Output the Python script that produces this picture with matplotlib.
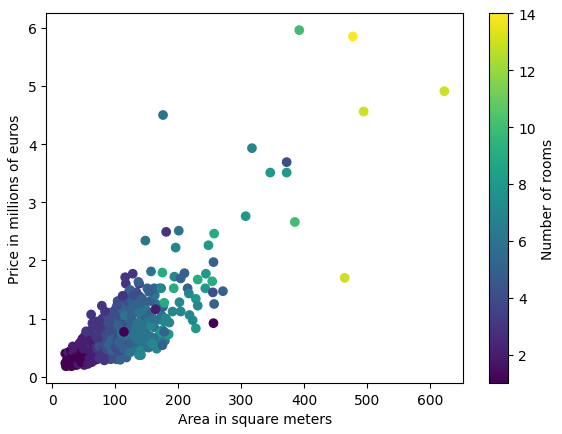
import matplotlib
matplotlib.use("Agg")
import matplotlib.pyplot as plt

# Periphery / outliers (area m², price M€, rooms)
outer_area = [392, 477, 622, 494, 176, 317, 372, 346, 372, 307, 385, 464,
              181, 201, 148, 196, 257, 248, 256, 128, 116, 157, 175, 210, 244,
              231, 254, 193, 243, 271, 255, 257, 228, 178, 256, 228, 183, 62,
              79, 103, 114, 21, 194, 204, 215, 217, 231, 202, 191, 204, 218,
              223, 185, 162, 138, 164, 117, 138, 122, 154, 170, 143, 130, 181,
              186, 178, 175, 159, 141, 108, 137, 124, 112, 129, 151, 162, 173]
outer_price = [5.96, 5.85, 4.91, 4.56, 4.50, 3.93, 3.69, 3.51, 3.51, 2.76, 2.66, 1.70,
               2.49, 2.51, 2.34, 2.22, 2.46, 2.26, 1.97, 1.77, 1.71, 1.81, 1.79, 1.78, 1.77,
               1.67, 1.64, 1.52, 1.52, 1.47, 1.45, 1.25, 1.34, 1.27, 0.92, 0.83, 0.72, 1.07,
               1.22, 1.22, 0.77, 0.23, 1.72, 1.69, 1.52, 1.43, 1.22, 1.28, 1.12, 1.12, 1.06,
               0.97, 0.73, 0.66, 0.37, 1.16, 1.60, 1.60, 1.46, 1.46, 1.52, 1.34, 1.23, 1.00,
               0.93, 0.77, 0.54, 0.57, 0.37, 0.29, 1.63, 1.49, 1.39, 1.40, 1.52, 1.52, 1.52]
outer_rooms = [10, 14, 13, 13, 6, 7, 4, 8, 8, 8, 10, 13,
               3, 6, 6, 7, 9, 8, 5, 3, 3, 6, 9, 5, 8,
               9, 9, 9, 8, 5, 4, 5, 8, 9, 1, 8, 8, 3,
               3, 4, 1, 1, 7, 5, 5, 7, 7, 7, 7, 7, 7,
               7, 8, 6, 7, 2, 3, 3, 5, 5, 7, 5, 5, 7,
               7, 5, 5, 7, 7, 5, 5, 5, 3, 4, 5, 5, 7]

# Dense cluster
core_area = [22, 25, 28, 30, 33, 35, 38, 24, 27, 32, 36, 40, 21, 26, 30, 34, 38, 40, 29, 23, 37, 33, 39, 31, 26,
             42, 44, 46, 48, 50, 52, 54, 56, 58, 45, 47, 50, 53, 55, 57, 59, 43, 49, 51, 44, 56, 58, 60, 42, 46, 52, 55, 48, 54, 59, 41, 45, 47, 57, 53, 50,
             61, 62, 63, 64, 65, 66, 67, 68, 69, 70, 71, 72, 73, 74, 75, 76, 77, 78, 79, 80, 62, 64, 66, 68, 70, 72, 74, 76, 78, 80, 63, 65, 67, 69, 71, 73, 75, 77, 79, 60, 75, 70,
             81, 82, 83, 84, 85, 86, 87, 88, 89, 90, 91, 92, 93, 94, 95, 96, 97, 98, 99, 100, 82, 84, 86, 88, 90, 92, 94, 96, 98, 100, 85, 87, 89, 91, 93, 95, 97, 99, 83, 90, 95,
             101, 102, 103, 104, 105, 106, 107, 108, 109, 110, 111, 112, 113, 114, 115, 116, 117, 118, 119, 120, 121, 122, 123, 124, 125, 104, 108, 112, 116, 118, 120, 122, 106, 110, 114, 102, 124, 105, 115,
             126, 128, 130, 132, 134, 136, 138, 140, 142, 144, 146, 148, 150, 127, 131, 135, 139, 143, 147, 129, 133, 137, 141, 145, 149, 134, 126, 138,
             152, 155, 158, 160, 162, 165, 168, 170, 172, 175, 178, 156, 163, 169, 174, 153, 166, 179, 157, 171, 176, 160]
core_price = [0.18, 0.22, 0.25, 0.20, 0.28, 0.24, 0.30, 0.30, 0.35, 0.38, 0.33, 0.26, 0.40, 0.42, 0.45, 0.40, 0.42, 0.36, 0.30, 0.26, 0.50, 0.52, 0.20, 0.18, 0.19,
              0.22, 0.30, 0.35, 0.28, 0.40, 0.33, 0.45, 0.38, 0.50, 0.48, 0.55, 0.60, 0.25, 0.30, 0.62, 0.42, 0.40, 0.52, 0.20, 0.58, 0.55, 0.35, 0.28, 0.45, 0.25, 0.70, 0.68, 0.65, 0.78, 0.72, 0.32, 0.38, 0.42, 0.22, 0.50, 0.48,
              0.30, 0.45, 0.55, 0.38, 0.65, 0.50, 0.28, 0.75, 0.42, 0.60, 0.35, 0.85, 0.52, 0.70, 0.45, 0.90, 0.62, 0.40, 0.78, 0.55, 0.80, 0.92, 0.72, 0.35, 0.95, 0.30, 0.58, 0.38, 0.68, 1.00, 0.25, 0.40, 0.60, 0.88, 0.48, 0.73, 0.32, 0.82, 0.50, 0.62, 0.52, 0.68,
              0.40, 0.65, 0.80, 0.50, 0.95, 0.35, 0.72, 1.05, 0.58, 0.85, 0.45, 1.10, 0.68, 0.38, 0.90, 0.55, 1.00, 0.75, 0.48, 0.62, 0.88, 1.12, 0.60, 0.42, 0.70, 0.52, 0.95, 0.82, 0.32, 1.15, 0.52, 0.47, 0.92, 0.78, 0.30, 0.64, 0.40, 0.88, 0.28, 0.55, 0.45,
              0.50, 0.80, 1.05, 0.65, 0.40, 0.95, 1.20, 0.72, 0.55, 1.00, 0.85, 0.45, 1.25, 0.68, 0.92, 0.58, 1.10, 0.78, 0.40, 1.30, 0.62, 0.98, 0.50, 1.15, 0.85, 1.30, 0.35, 1.15, 1.35, 0.33, 0.70, 0.55, 0.60, 0.75, 0.48, 0.30, 0.42, 0.88, 1.05,
              0.60, 0.95, 0.75, 1.10, 0.55, 1.25, 0.85, 0.68, 1.00, 0.50, 1.20, 0.80, 0.62, 1.30, 0.45, 0.92, 1.38, 0.72, 1.05, 0.70, 0.82, 0.62, 0.45, 0.88, 1.15, 1.45, 1.05, 1.10,
              0.95, 0.70, 1.10, 0.55, 0.85, 1.25, 0.68, 0.98, 0.60, 0.80, 0.95, 1.30, 1.40, 1.15, 1.05, 0.50, 0.48, 0.62, 0.88, 0.75, 1.20, 1.00]
core_rooms = [1, 1, 1, 1, 1, 2, 1, 1, 2, 1, 2, 2, 1, 2, 1, 2, 2, 1, 1, 1, 2, 2, 1, 1, 1,
              2, 2, 2, 2, 2, 2, 2, 2, 2, 2, 2, 3, 2, 1, 2, 2, 1, 2, 2, 2, 3, 2, 2, 2, 1, 3, 2, 2, 3, 3, 1, 1, 1, 2, 2, 2,
              2, 2, 3, 2, 3, 2, 2, 3, 3, 3, 2, 3, 3, 3, 3, 3, 3, 3, 3, 3, 3, 3, 3, 2, 3, 2, 4, 3, 3, 3, 2, 2, 3, 3, 3, 4, 3, 3, 4, 2, 4, 3,
              3, 3, 3, 3, 3, 3, 4, 4, 3, 4, 3, 4, 4, 3, 4, 4, 4, 4, 4, 4, 3, 3, 4, 3, 4, 4, 4, 5, 4, 4, 4, 4, 4, 4, 4, 5, 4, 4, 3, 5, 5,
              4, 4, 4, 4, 4, 5, 4, 4, 5, 4, 5, 4, 5, 5, 4, 5, 5, 5, 5, 4, 5, 5, 5, 5, 5, 4, 4, 5, 4, 5, 6, 4, 5, 6, 5, 4, 6, 5, 6,
              5, 5, 5, 5, 5, 5, 6, 5, 6, 6, 5, 6, 6, 5, 6, 6, 5, 6, 5, 6, 6, 6, 7, 6, 6, 4, 5, 6,
              6, 6, 5, 7, 6, 6, 7, 6, 7, 7, 7, 5, 6, 7, 6, 6, 7, 6, 7, 8, 5, 6]

area = core_area + outer_area
price = core_price + outer_price
rooms = core_rooms + outer_rooms

W, H = 562, 435
fig = plt.figure(figsize=(W / 100, H / 100), dpi=100)
ax = fig.add_axes([46.3 / W, 1 - 384 / H, (463.3 - 46.3) / W, (384 - 14.3) / H])
cax = fig.add_axes([489.3 / W, 1 - 384 / H, 19 / W, (384 - 14.3) / H])

sc = ax.scatter(area, price, c=rooms, cmap="viridis", vmin=1, vmax=14)
ax.set_xlabel("Area in square meters")
ax.set_ylabel("Price in millions of euros")
cb = fig.colorbar(sc, cax=cax)
cb.set_label("Number of rooms")

fig.savefig("out.png", dpi=100)
